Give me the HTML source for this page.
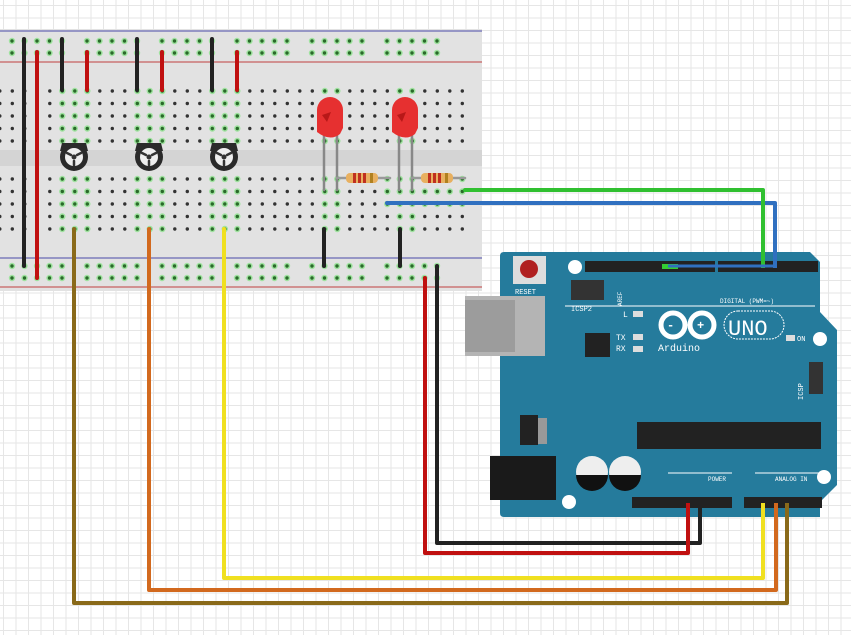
<!DOCTYPE html>
<html><head><meta charset="utf-8"><style>
html,body{margin:0;padding:0;}
body{width:851px;height:635px;overflow:hidden;background-color:#fff;
background-image:linear-gradient(#e6e6e6 1px,transparent 1px),linear-gradient(90deg,#e6e6e6 1px,transparent 1px);
background-size:12.5px 12.5px;background-position:3px 5px;}
svg{position:absolute;left:0;top:0;}
text{font-family:"Liberation Mono",monospace;}
</style></head><body>
<svg id="s" width="851" height="635" viewBox="0 0 851 635" xmlns="http://www.w3.org/2000/svg">
<rect x="0" y="29" width="482" height="262" fill="#e2e2e2"/>
<rect x="0" y="150" width="482" height="16" fill="#d4d4d4"/>
<line x1="0" y1="31" x2="482" y2="31" stroke="#4a4aa8" stroke-width="1"/>
<line x1="0" y1="62" x2="482" y2="62" stroke="#c04040" stroke-width="1"/>
<line x1="0" y1="258" x2="482" y2="258" stroke="#4a4aa8" stroke-width="1"/>
<line x1="0" y1="287" x2="482" y2="287" stroke="#c04040" stroke-width="1"/>
<g id="dots"></g>
<g id="wires" stroke-linecap="round" fill="none"></g>
</svg>
<script>
const NS="http://www.w3.org/2000/svg";
const dots=document.getElementById('dots'),W=document.getElementById('wires');
function el(p,t,a){const e=document.createElementNS(NS,t);for(const k in a)e.setAttribute(k,a[k]);p.appendChild(e);return e;}
const greenCols=[61.8,74.3,86.8,136.8,149.3,161.8,211.8,224.3,236.8,324,336.5,399,411.5];
[41,53,266,278].forEach(y=>{for(let g=0;g<6;g++)for(let i=0;i<5;i++){const x=12+75*g+12.5*i;el(dots,'circle',{cx:x,cy:y,r:3.2,fill:'#9fe29f'});el(dots,'circle',{cx:x,cy:y,r:1.7,fill:'#2a6a2a'});}});
[91,103.5,116,128.5,141,179,191.5,204,216.5,229].forEach(y=>{for(let k=0;k<38;k++){const x=-0.2+12.5*k;
 const g=greenCols.some(c=>Math.abs(c-x)<2)||(x>380&&x<470&&(y==191.5||y==204||y==179));
 if(g)el(dots,'circle',{cx:x,cy:y,r:3.2,fill:'#9fe29f'});
 el(dots,'circle',{cx:x,cy:y,r:1.7,fill:g?'#2a6a2a':'#333'});}});
function w(pts,c,wd){el(W,'polyline',{points:pts,stroke:c,'stroke-width':wd||4,'stroke-linejoin':'round'});}
w("24,39 24,266","#222");w("37,52 37,278","#c01010");
[62,137,212].forEach(x=>w(x+",39 "+x+",90","#222"));
[87,162,237].forEach(x=>w(x+",52 "+x+",90","#c01010"));
w("324,229 324,266","#222");w("400,229 400,266","#222");
w("74,229 74,603 787,603 787,507","#8a6a1a");
w("149,229 149,590 776,590 776,507","#d2691e");
w("224,229 224,578 763,578 763,507","#f0e020");
w("425,278 425,553 688,553 688,507","#c01010");
w("437,266 437,543 700,543 700,507","#222");
[74,149,224].forEach(x=>{
 el(W,'path',{d:`M${x-14} 151 L${x-12} 143 L${x+12} 143 L${x+14} 151Z`,fill:'#2a2a2a'});
 el(W,'circle',{cx:x,cy:157,r:14,fill:'#2a2a2a'});
 el(W,'circle',{cx:x,cy:157,r:9,fill:'#eee'});el(W,'circle',{cx:x,cy:157,r:2.5,fill:'#333'});
 el(W,'path',{d:`M${x-7} 153 l4 2 M${x+7} 153 l-4 2 M${x} 165 l0 -4`,stroke:'#333','stroke-width':2.5});});
[[317,346],[392,421]].forEach(([lx,rx])=>{
 w(`${lx+7},135 ${lx+7},190`,"#888",2.5);w(`${lx+20},135 ${lx+20},190`,"#888",2.5);
 w(`${lx+20},178 ${rx+44},178`,"#999",2.5);
 el(W,'rect',{x:rx,y:173,width:32,height:10,rx:4,fill:'#e8b060'});
 [rx+7,rx+12,rx+17,rx+24].forEach((x,i)=>el(W,'rect',{x:x,y:173,width:3,height:10,fill:i==3?'#b08020':'#c03020'}));
 el(W,'path',{d:`M${lx} 132 L${lx} 110 A13 13 0 0 1 ${lx+26} 110 L${lx+26} 128 L${lx+23} 134 Q${lx+13} 142 ${lx} 132Z`,fill:'#e63030'});
 el(W,'path',{d:`M${lx+5} 115 L${lx+14} 112 L${lx+10} 122Z`,fill:'#b81818'});
});
w("465,190 763,190 763,266","#30c030");
w("387,203 775,203 775,266 668,266","#3070c0");
</script>
<svg width="851" height="635" viewBox="0 0 851 635" style="pointer-events:none">
<path d="M500 256 Q500 252 504 252 L810 252 L820 262 L820 312 L837 330 L837 485 L820 502 L820 517 L504 517 Q500 517 500 513Z" fill="#257b9c"/>
<rect x="465" y="296" width="80" height="60" fill="#b4b4b4"/><rect x="465" y="300" width="50" height="52" fill="#9c9c9c"/>
<rect x="490" y="456" width="66" height="44" fill="#1a1a1a"/>
<rect x="513" y="256" width="33" height="28" fill="#ddd"/><circle cx="529" cy="269" r="9" fill="#b02020"/>
<text x="515" y="294" font-size="7" fill="#fff">RESET</text>
<circle cx="575" cy="267" r="7" fill="#fff"/><circle cx="820" cy="339" r="7" fill="#fff"/><circle cx="569" cy="502" r="7" fill="#fff"/><circle cx="824" cy="477" r="7" fill="#fff"/>
<rect x="571" y="280" width="33" height="20" fill="#333"/>
<text x="571" y="311" font-size="7" fill="#fff">ICSP2</text>
<rect x="585" y="261" width="130" height="11" fill="#222"/><rect x="718" y="261" width="100" height="11" fill="#222"/>
<rect x="662" y="264" width="16" height="5" fill="#3c3"/>
<text x="622" y="306" font-size="6" fill="#fff" transform="rotate(-90 622 306)">AREF</text>
<text x="720" y="303" font-size="6" fill="#fff">DIGITAL (PWM=~)</text>
<line x1="565" y1="306" x2="815" y2="306" stroke="#fff" stroke-width="1"/>
<text x="623" y="317" font-size="8" fill="#fff">L</text><rect x="633" y="311" width="10" height="6" fill="#ddd"/>
<text x="616" y="340" font-size="8" fill="#fff">TX</text><rect x="633" y="334" width="10" height="6" fill="#ddd"/>
<text x="616" y="351" font-size="8" fill="#fff">RX</text><rect x="633" y="346" width="10" height="6" fill="#ddd"/>
<rect x="585" y="333" width="25" height="24" fill="#222"/>
<circle cx="673" cy="325" r="12" fill="none" stroke="#fff" stroke-width="5"/><circle cx="702" cy="325" r="12" fill="none" stroke="#fff" stroke-width="5"/>
<text x="667" y="329" font-size="12" fill="#fff" font-weight="bold">-</text><text x="697" y="329" font-size="12" fill="#fff" font-weight="bold">+</text>
<rect x="724" y="311" width="60" height="28" rx="14" fill="none" stroke="#fff" stroke-width="1" stroke-dasharray="2 1"/>
<text x="728" y="335" font-size="22" fill="#fff" font-family="Liberation Sans">UNO</text>
<text x="658" y="351" font-size="10" fill="#fff">Arduino</text>
<rect x="786" y="335" width="9" height="6" fill="#ddd"/><text x="797" y="341" font-size="7" fill="#fff">ON</text>
<rect x="809" y="362" width="14" height="32" fill="#333"/><text x="803" y="400" font-size="7" fill="#fff" transform="rotate(-90 803 400)">ICSP</text>
<rect x="520" y="415" width="18" height="30" fill="#222"/><rect x="538" y="418" width="9" height="26" fill="#999"/>
<rect x="637" y="422" width="184" height="27" fill="#222"/>
<circle cx="592" cy="472" r="16" fill="#eee"/><path d="M576 475 A16 16 0 0 0 608 475Z" fill="#111"/>
<circle cx="625" cy="472" r="16" fill="#eee"/><path d="M609 475 A16 16 0 0 0 641 475Z" fill="#111"/>
<rect x="632" y="497" width="100" height="11" fill="#222"/><rect x="744" y="497" width="78" height="11" fill="#222"/>
<text x="708" y="481" font-size="6" fill="#fff">POWER</text><text x="775" y="481" font-size="6" fill="#fff">ANALOG IN</text>
<line x1="668" y1="473" x2="732" y2="473" stroke="#fff"/><line x1="755" y1="473" x2="820" y2="473" stroke="#fff"/>
<line x1="688" y1="503" x2="688" y2="553" stroke="#c01010" stroke-width="4"/>
<line x1="700" y1="503" x2="700" y2="543" stroke="#222" stroke-width="4"/>
<line x1="763" y1="503" x2="763" y2="578" stroke="#f0e020" stroke-width="4"/>
<line x1="776" y1="503" x2="776" y2="590" stroke="#d2691e" stroke-width="4"/>
<line x1="787" y1="503" x2="787" y2="603" stroke="#8a6a1a" stroke-width="4"/>
<line x1="763" y1="190" x2="763" y2="268" stroke="#30c030" stroke-width="4"/>
<line x1="775" y1="203" x2="775" y2="268" stroke="#3070c0" stroke-width="4"/>
<line x1="668" y1="266" x2="775" y2="266" stroke="#3070c0" stroke-width="3"/>
</svg>
</body></html>
